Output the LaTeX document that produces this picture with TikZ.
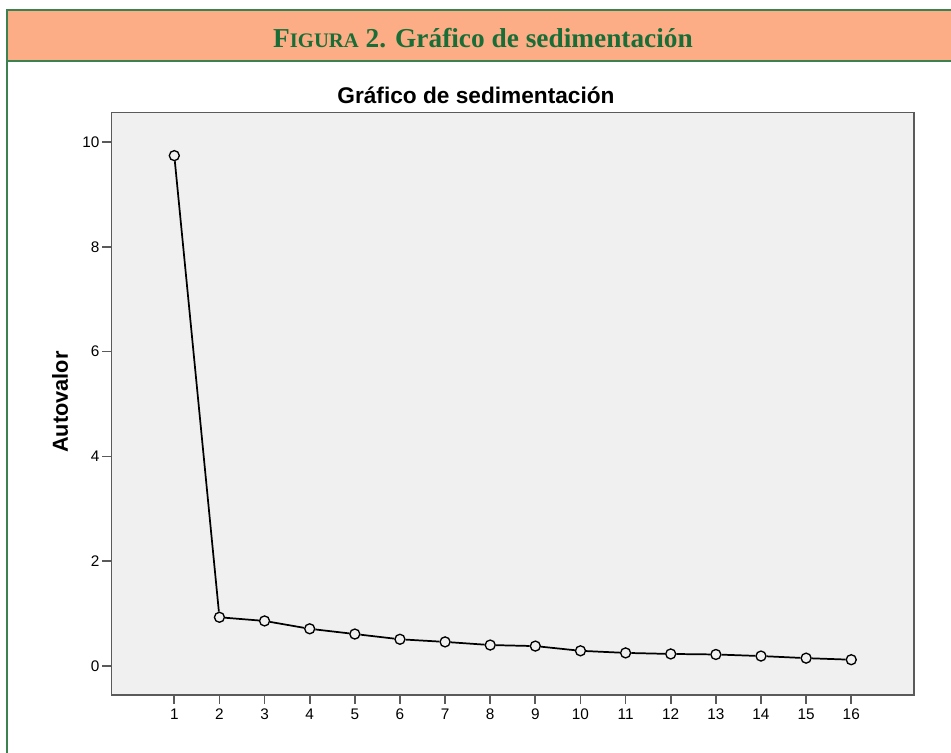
\documentclass[tikz,border=0pt]{standalone}
\usepackage{fontspec}
\setmainfont{Liberation Sans}
\newfontfamily\headfont{Liberation Serif}
\usepackage{tikz}
\usetikzlibrary{shapes,arrows}
\definecolor{headorange}{RGB}{253,173,133}
\definecolor{framegreen}{RGB}{60,130,80}
\definecolor{textgreen}{RGB}{25,110,55}
\definecolor{plotbg}{RGB}{240,240,240}
\definecolor{plotframe}{RGB}{90,90,90}
\tikzstyle{point} = [circle, draw, line width=1pt, inner sep=0pt, minimum size=7.5pt]
\tikzstyle{line} = [draw, line width=1.3pt]
\tikzstyle{ticklabel} = [font=\fontsize{11.5}{13}\selectfont, inner sep=1pt]
\tikzstyle{tickmark} = [draw, line width=1.3pt, plotframe]

\begin{document}
\begin{tikzpicture}[x=0.75pt, y=-0.75pt]
    \useasboundingbox (0,0) rectangle (951,753);
    % Frame and header
    \fill[headorange] (7,10) rectangle (955,61);
    \draw[framegreen, line width=1.5pt] (7,760) -- (7,10) -- (955,10);
    \draw[framegreen, line width=1.5pt] (7,61) -- (955,61);
    \node[textgreen, font=\headfont\bfseries\fontsize{20.5}{24}\selectfont] (figura) at (483,38)
        {F{\fontsize{15.5}{18}\selectfont IGURA} 2. Gráfico de sedimentación};
    % Plot area
    \filldraw[fill=plotbg, draw=plotframe, line width=1.4pt] (111.5,112.5) rectangle (914,695);
    \node[font=\bfseries\fontsize{17}{20}\selectfont] (title) at (476,95) {Gráfico de sedimentación};
    \node[font=\bfseries\fontsize{16.3}{19}\selectfont, rotate=90] (ylabel) at (60,402) {Autovalor};
    % Axes
    \foreach \v in {0,2,...,10} {
        \path[tickmark] (102,{666-52.4*\v}) -- (111.5,{666-52.4*\v});
        \node[ticklabel, anchor=east] (y\v) at (101,{666-52.4*\v}) {\v};
    }
    \foreach \i in {1,...,16} {
        \path[tickmark] ({174.3+45.13*(\i-1)},695) -- ({174.3+45.13*(\i-1)},704);
        \node[ticklabel, anchor=north] (x\i) at ({174.3+45.13*(\i-1)},707.5) {\i};
    }
    % Place nodes
    \foreach \i/\v in {1/9.74, 2/0.93, 3/0.86, 4/0.71, 5/0.61, 6/0.51, 7/0.46, 8/0.40,
                       9/0.38, 10/0.29, 11/0.25, 12/0.23, 13/0.22, 14/0.19, 15/0.15, 16/0.12}
        \node[point] (p\i) at ({174.3+45.13*(\i-1)},{666-52.4*\v}) {};
    % Draw edges
    \foreach \i [evaluate=\i as \j using int(\i+1)] in {1,...,15}
        \path[line] (p\i) -- (p\j);
\end{tikzpicture}
\end{document}
